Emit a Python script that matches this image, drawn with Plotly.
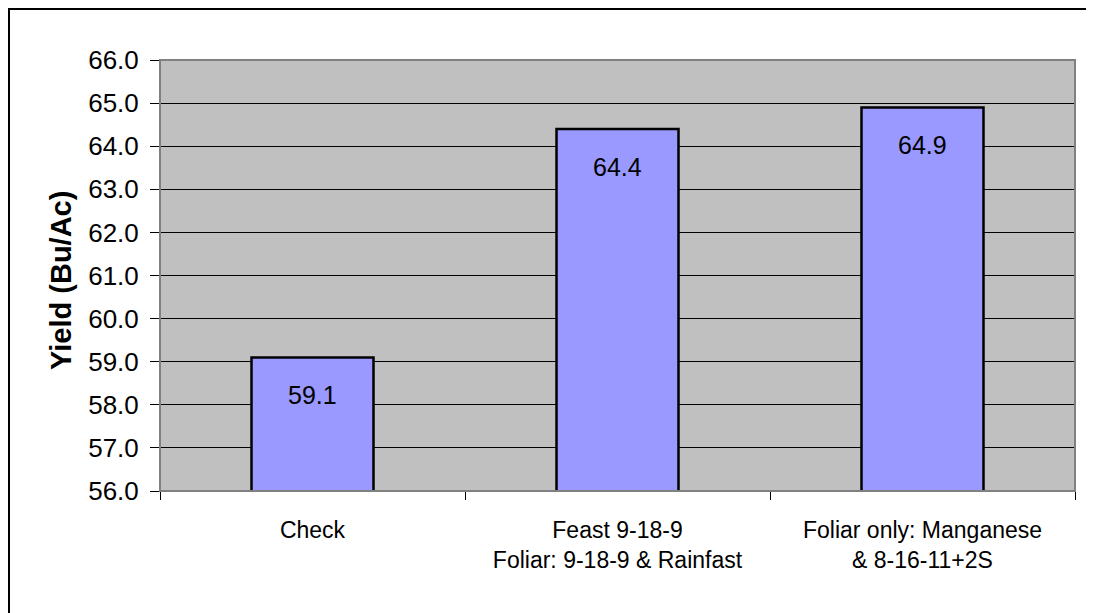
import plotly.graph_objects as go

categories = ["Check", "Feast 9-18-9<br>Foliar: 9-18-9 & Rainfast", "Foliar only: Manganese<br>& 8-16-11+2S"]
yields = [59.1, 64.4, 64.9]
y_title = "Yield (Bu/Ac)"

# page has an 8px body margin; plot area in page pixels: x 160..1075, y 60..491
OFF = 8
W, H = 1086, 605
L, R, T, B = 152, 19, 52, 122
pw, ph = W - L - R, H - T - B

def px_x(p):  # page pixel -> paper x
    return (p - OFF - L) / pw

def px_y(p):  # page pixel -> paper y
    return (H - B - (p - OFF)) / ph

FONT = "Liberation Sans, Arial, sans-serif"

fig = go.Figure()
fig.add_trace(go.Bar(
    x=categories, y=yields,
    marker=dict(color="#9999FF", line=dict(color="black", width=2.5)),
    width=0.4,
    hoverinfo="skip",
))

for c, v in zip(categories, yields):
    fig.add_annotation(x=c, y=v, text=f"{v:.1f}", showarrow=False,
                       yshift=-38, font=dict(family=FONT, size=25, color="black"))

fig.add_annotation(x=px_x(61), y=px_y(281), xref="paper", yref="paper", text=f"<b>{y_title}</b>",
                   xanchor="center", yanchor="middle",
                   textangle=-90, showarrow=False, font=dict(family=FONT, size=29, color="black"))

# plot area border
fig.add_shape(type="rect", xref="paper", yref="paper", x0=0, x1=1, y0=0, y1=1,
              line=dict(color="#808080", width=2), layer="above")
# chart outer border (left and top edges visible)
fig.add_shape(type="rect", xref="paper", yref="paper", x0=px_x(9), x1=px_x(1110), y0=px_y(630), y1=px_y(9),
              line=dict(color="black", width=2))

fig.update_layout(
    width=W, height=H,
    margin=dict(l=L, r=R, t=T, b=B, autoexpand=False),
    paper_bgcolor="white", plot_bgcolor="#C0C0C0",
    showlegend=False,
    font=dict(family=FONT, size=23, color="black"),
)
fig.update_xaxes(
    type="category", showgrid=False, showline=True, linecolor="black", linewidth=1,
    ticks="outside", tickson="boundaries", ticklen=8, tickcolor="black",
    tickfont=dict(family=FONT, size=23), range=[-0.5, 2.5], ticklabelstandoff=18,
)
fig.update_yaxes(
    range=[56, 66], dtick=1, tickformat=".1f", showgrid=True, gridcolor="black", gridwidth=1,
    showline=True, linecolor="black", linewidth=1, ticks="outside", ticklen=9, tickcolor="black",
    tickfont=dict(family=FONT, size=26), zeroline=False, ticklabelstandoff=6,
)

fig.write_html("out.html")
